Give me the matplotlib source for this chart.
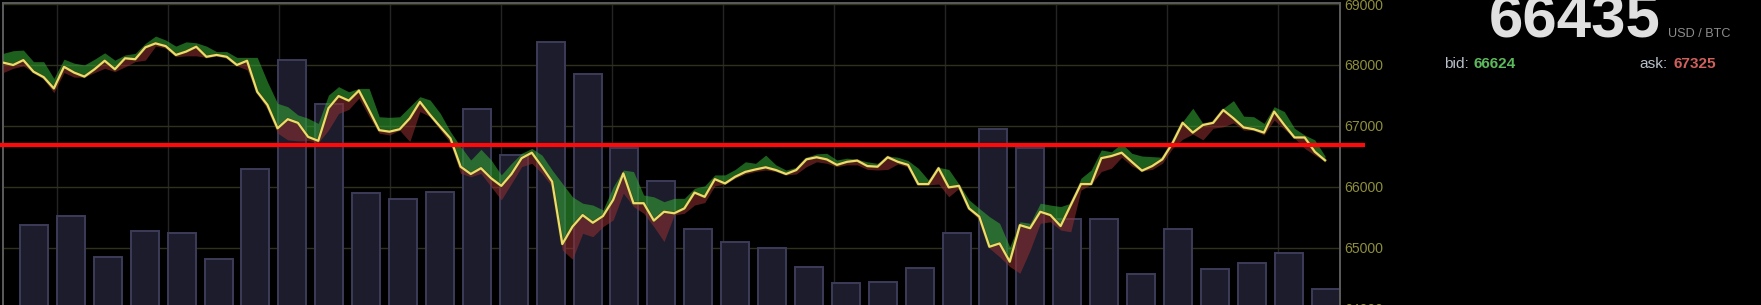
import numpy as np
import matplotlib
matplotlib.use("Agg")
import matplotlib.pyplot as plt
from matplotlib.lines import Line2D
from matplotlib.transforms import blended_transform_factory

# ---------------- data ----------------
price = [68040, 68000, 68080, 67890, 67800, 67615, 67970, 67875, 67810, 67930,
         68070, 67930, 68110, 68095, 68290, 68355, 68310, 68165, 68220, 68300,
         68135, 68165, 68135, 68000, 68070, 67560, 67345, 66960, 67110, 67050,
         66820, 66755, 67290, 67490, 67415, 67580, 67260, 66930, 66905, 66945,
         67125, 67395, 67180, 66985, 66795, 66330, 66210, 66305, 66140, 66015,
         66210, 66470, 66560, 66330, 66085, 65060, 65345, 65535, 65410, 65520,
         65785, 66220, 65730, 65730, 65445, 65590, 65565, 65645, 65905, 65835,
         66125, 66055, 66165, 66245, 66285, 66320, 66275, 66210, 66275, 66450,
         66485, 66450, 66360, 66410, 66430, 66340, 66330, 66485, 66410, 66360,
         66045, 66045, 66305, 65990, 66015, 65645, 65510, 65015, 65070, 64770,
         65370, 65320, 65590, 65535, 65355, 65700, 66045, 66045, 66470, 66505,
         66560, 66410, 66265, 66340, 66450, 66715, 67050, 66890, 67015, 67050,
         67260, 67125, 66975, 66945, 66890, 67235, 67015, 66810, 66810, 66575, 66435]

upper = [68190, 68235, 68245, 68055, 68055, 67780, 68095, 68030, 68000, 68095,
         68200, 68080, 68165, 68190, 68355, 68475, 68410, 68310, 68380, 68365,
         68310, 68220, 68220, 68125, 68125, 68125, 67725, 67370, 67315, 67180,
         67125, 67040, 67505, 67645, 67560, 67615, 67615, 67150, 67140, 67150,
         67315, 67480, 67425, 67205, 66905, 66660, 66440, 66615, 66440, 66195,
         66385, 66550, 66630, 66520, 66275, 66055, 65835, 65730, 65700, 65620,
         66000, 66275, 66250, 65865, 65835, 65755, 65810, 65810, 65975, 66015,
         66195, 66195, 66285, 66410, 66385, 66520, 66360, 66275, 66320, 66485,
         66540, 66550, 66440, 66470, 66450, 66410, 66385, 66505, 66485, 66430,
         66305, 66110, 66320, 66285, 66045, 65785, 65645, 65510, 65400, 65015,
         65425, 65400, 65730, 65700, 65675, 65730, 66140, 66275, 66605, 66575,
         66715, 66550, 66505, 66495, 66485, 66730, 67070, 67290, 67040, 67070,
         67290, 67415, 67160, 67150, 67040, 67315, 67235, 66960, 66850, 66770, 66505]

lower = [67875, 67945, 67985, 67875, 67765, 67545, 67875, 67800, 67800, 67875,
         67945, 67890, 67970, 68055, 68080, 68310, 68275, 68135, 68150, 68150,
         68125, 68150, 68110, 67985, 67920, 67535, 67270, 66880, 66770, 66755,
         66755, 66725, 66930, 67205, 67270, 67455, 67150, 66880, 66850, 66930,
         66740, 67235, 67150, 66930, 66715, 66220, 66165, 66220, 66000, 65785,
         66055, 66330, 66385, 66220, 66000, 64960, 64810, 65235, 65180, 65345,
         65455, 65895, 65675, 65565, 65345, 65100, 65535, 65565, 65700, 65740,
         66015, 66045, 66140, 66210, 66250, 66275, 66250, 66195, 66210, 66330,
         66410, 66385, 66330, 66360, 66360, 66285, 66275, 66285, 66375, 66320,
         66030, 66030, 66045, 65835, 65975, 65620, 65455, 64990, 64850, 64690,
         64580, 64960, 65400, 65425, 65290, 65260, 65945, 66040, 66250, 66305,
         66485, 66340, 66260, 66285, 66385, 66630, 66780, 66865, 66770, 66960,
         66985, 67050, 66930, 66930, 66850, 67095, 66945, 66800, 66630, 66520, 66420]

volume = [93, 102, 61, 87, 85, 59, 149, 258, 214, 125, 119, 126, 209, 163, 276, 244,
          170, 137, 89, 76, 70, 51, 35, 36, 50, 85, 189, 170, 99, 99, 44, 89, 49, 55, 65, 29]

price_ticks = [64000, 65000, 66000, 67000, 68000, 69000]
tick_labels = ["64000", "65000", "66000", "67000", "68000", "69000"]
ref_level = 66685

last_price = "66435"
unit_label = "USD / BTC"
bid_value = "66624"
ask_value = "67325"

# ---------------- layout ----------------
W, H = 1761, 305
fig = plt.figure(figsize=(W / 100, H / 100), dpi=100, facecolor="black")

ax_left, ax_right, ax_top, ax_bottom = 3, 1340, 3, 318  # pixels
ax_vol = fig.add_axes([ax_left / W, (H - ax_bottom) / H,
                       (ax_right - ax_left) / W, (ax_bottom - ax_top) / H])
ax_vol.set_facecolor("black")
ax_price = ax_vol.twinx()
ax_vol.set_zorder(0)
ax_price.set_zorder(1)
ax_price.patch.set_visible(False)

x_lo, x_hi = ax_left, ax_right
ax_vol.set_xlim(x_lo, x_hi)
ax_price.set_xlim(x_lo, x_hi)
ax_vol.set_ylim(0, ax_bottom - ax_top)
ax_price.set_ylim(63845, 69018)

# x positions (screen-like time axis)
n = len(price)
xs = np.linspace(3, 1325, n)
bar_x = 34 + 36.9 * np.arange(len(volume))
grid_x = 57 + 111 * np.arange(12)

# grid (beneath bars)
for gx in grid_x:
    ax_vol.axvline(gx, color="#242424", lw=1.0, zorder=0.5)
trans = blended_transform_factory(ax_vol.transAxes, ax_price.transData)
for p in price_ticks:
    ax_vol.add_line(Line2D([0, 1], [p, p], transform=trans, color="#30301e",
                           lw=1.0, zorder=0.6))

# volume bars
ax_vol.bar(bar_x, volume, width=28, color="#1c1c2c", edgecolor="#3c3c5a",
           linewidth=1.4, zorder=2)

# price bands & line
ax_price.fill_between(xs, price, upper, color="#33a533", alpha=0.58, lw=0, zorder=2)
ax_price.fill_between(xs, lower, price, color="#963030", alpha=0.55, lw=0, zorder=2)
ax_price.plot(xs, price, color="#4a4212", lw=2.4, zorder=3, alpha=0.7)
ax_price.plot(xs, price, color="#ecdc6c", lw=1.6, zorder=4)

# reference line (extends a bit outside the plot)
xmin_f = (0 - ax_left) / (ax_right - ax_left)
xmax_f = (1365 - ax_left) / (ax_right - ax_left)
ax_price.axhline(ref_level, xmin=xmin_f, xmax=xmax_f, color="#ff0a0a", lw=3.0,
                 zorder=5, clip_on=False, solid_capstyle="butt")

# ticks
ax_vol.set_yticks([])
ax_vol.set_xticks([])
ax_price.set_xticks([])
ax_price.set_yticks(price_ticks)
ax_price.set_yticklabels(tick_labels)
ax_price.tick_params(axis="y", length=0, pad=3.0, labelsize=10.1,
                     labelcolor="#8e8e3c")
for lab in ax_price.get_yticklabels():
    lab.set_fontfamily("Liberation Sans")

for a in (ax_vol, ax_price):
    for s in a.spines.values():
        s.set_visible(False)
for side in ("top", "left", "right"):
    ax_vol.spines[side].set_visible(True)
    ax_vol.spines[side].set_color("#5c5c5c")
    ax_vol.spines[side].set_linewidth(1.4)

# ---------------- texts ----------------
def fx(px):
    return px / W

def fy(py):
    return 1 - py / H

fam = ["Liberation Sans", "DejaVu Sans"]
fig.text(fx(1489), fy(37), last_price, family=fam, weight="bold", fontsize=44.5,
         color="#e0e0e0", ha="left", va="baseline")
fig.text(fx(1668), fy(36.7), unit_label, family=fam, fontsize=9.1,
         color="#8c8c8c", ha="left", va="baseline")
fig.text(fx(1444), fy(68.3), "bid:", family=fam, fontsize=11.1,
         color="#b6bfca", ha="left", va="baseline")
fig.text(fx(1474), fy(68.3), bid_value, family=fam, weight="bold", fontsize=11.1,
         color="#5cb85c", ha="left", va="baseline")
fig.text(fx(1639), fy(68.3), "ask:", family=fam, fontsize=11.1,
         color="#b6bfca", ha="left", va="baseline")
fig.text(fx(1673), fy(68.3), ask_value, family=fam, weight="bold", fontsize=11.1,
         color="#d0605c", ha="left", va="baseline")

fig.savefig("out.png", dpi=100, facecolor="black")
